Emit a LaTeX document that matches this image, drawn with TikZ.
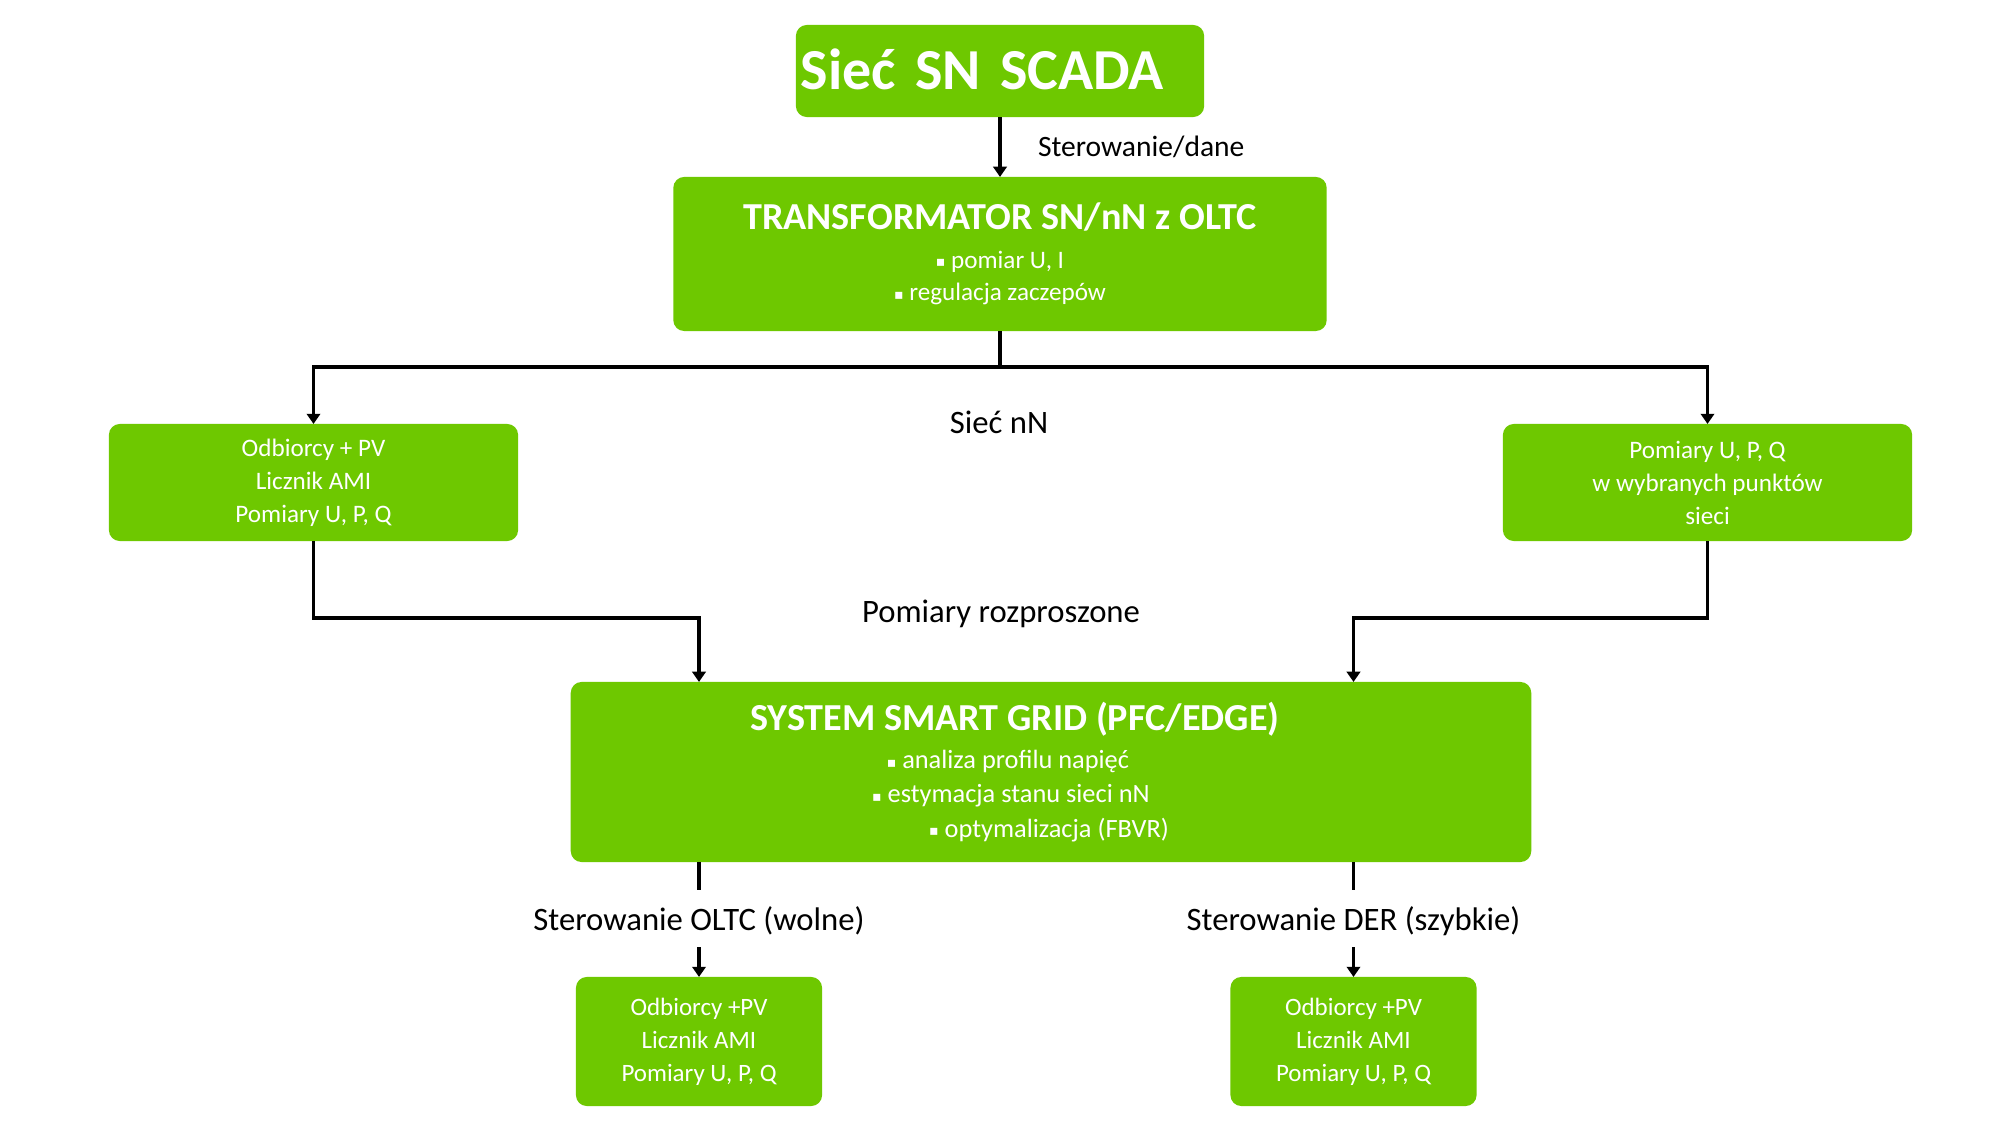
\documentclass[tikz,border=0pt]{standalone}
\usepackage{fontspec}
\setmainfont{Carlito}
\newfontfamily\symfont{DejaVu Sans}
\usetikzlibrary{arrows.meta,calc}
\definecolor{sgreen}{RGB}{110,200,0}
\newcommand{\blt}{{\symfont\fontsize{4}{4}\selectfont\raisebox{0.4pt}{▪}}\ }
\newcommand{\padr}[1]{\rule{#1}{0pt}}
\begin{document}
\begin{tikzpicture}[x=0.01cm,y=-0.01cm,
 box/.style={fill=sgreen, rounded corners=3.1pt, text=white, align=center, inner sep=0pt, outer sep=0pt},
 conn/.style={line width=1pt},
 arr/.style={conn, -{Triangle[width=3.8pt,length=2.9pt]}},
 lbl/.style={text=black, inner sep=0pt, outer sep=0pt, font=\fontsize{9.3}{11}\selectfont}]
\fill[white] (0,0) rectangle (2000,1125);
\useasboundingbox (0,0) rectangle (2000,1125);

\node[box, minimum width=4.08cm, minimum height=0.92cm, text width=3.98cm, align=left, text height=10.7pt, text depth=0pt, font=\bfseries\fontsize{16.5}{20}\selectfont] (scada) at (1000,71) {Sieć SN SCADA};

\node[box, minimum width=6.53cm, minimum height=1.54cm, font=\fontsize{7.15}{9.3}\selectfont] (trans) at (1000,254) {{\bfseries\fontsize{10.85}{12}\selectfont TRANSFORMATOR SN/nN z OLTC}\\[1.6pt] \blt pomiar U, I\\ \blt regulacja zaczepów};

\node[box, minimum width=4.09cm, minimum height=1.17cm, font=\fontsize{7.15}{9.39}\selectfont] (lbox) at (313.5,482.5) {Odbiorcy + PV\\ Licznik AMI\\ Pomiary U, P, Q};
\node[box, minimum width=4.09cm, minimum height=1.17cm, font=\fontsize{7.15}{9.39}\selectfont] (rbox) at (1707.5,482.5) {Pomiary U, P, Q\\ w wybranych punktów\\ sieci};

\node[box, minimum width=9.6cm, minimum height=1.8cm, font=\fontsize{7.5}{9.8}\selectfont] (ssg) at (1051,772) {{\bfseries\fontsize{10.85}{12}\selectfont SYSTEM SMART GRID (PFC/EDGE)}\padr{20.5pt}\\[1pt] \blt analiza profilu napięć\padr{24.5pt}\\ \blt estymacja stanu sieci nN\padr{22.8pt}\\ \blt optymalizacja (FBVR)\padr{1.1pt}};

\node[box, minimum width=2.46cm, minimum height=1.29cm, font=\fontsize{7.1}{9.39}\selectfont] (boxA) at (699,1041.5) {Odbiorcy +PV\\ Licznik AMI\\ Pomiary U, P, Q};
\node[box, minimum width=2.46cm, minimum height=1.29cm, font=\fontsize{7.1}{9.39}\selectfont] (boxB) at (1353.5,1041.5) {Odbiorcy +PV\\ Licznik AMI\\ Pomiary U, P, Q};

\node[lbl, anchor=base west, font=\fontsize{8.4}{10}\selectfont] (lsd) at (1038,157) {Sterowanie/dane};
\node[lbl, anchor=base] (lnn) at (999,434) {Sieć nN};
\node[lbl, anchor=base] (lpr) at (1001,623) {Pomiary rozproszone};
\node[lbl, anchor=base, text height=11.38pt, text depth=4.84pt] (lA) at (699,930) {Sterowanie OLTC (wolne)};
\node[lbl, anchor=base, text height=11.38pt, text depth=4.84pt] (lB) at (1353.5,930) {Sterowanie DER (szybkie)};

\draw[arr] (scada.south) -- (trans.north);
\draw[arr] (trans.south) -- ($(trans.south)+(0,36)$) -| (lbox.north);
\draw[arr] (trans.south) -- ($(trans.south)+(0,36)$) -| (rbox.north);
\draw[arr] (lbox.south) -- ($(lbox.south)+(0,77)$) -| (ssg.north -| boxA.north);
\draw[arr] (rbox.south) -- ($(rbox.south)+(0,77)$) -| (ssg.north -| boxB.north);
\draw[conn] (ssg.south -| lA.north) -- (lA.north);
\draw[arr] (lA.south) -- (boxA.north);
\draw[conn] (ssg.south -| lB.north) -- (lB.north);
\draw[arr] (lB.south) -- (boxB.north);
\end{tikzpicture}
\end{document}
